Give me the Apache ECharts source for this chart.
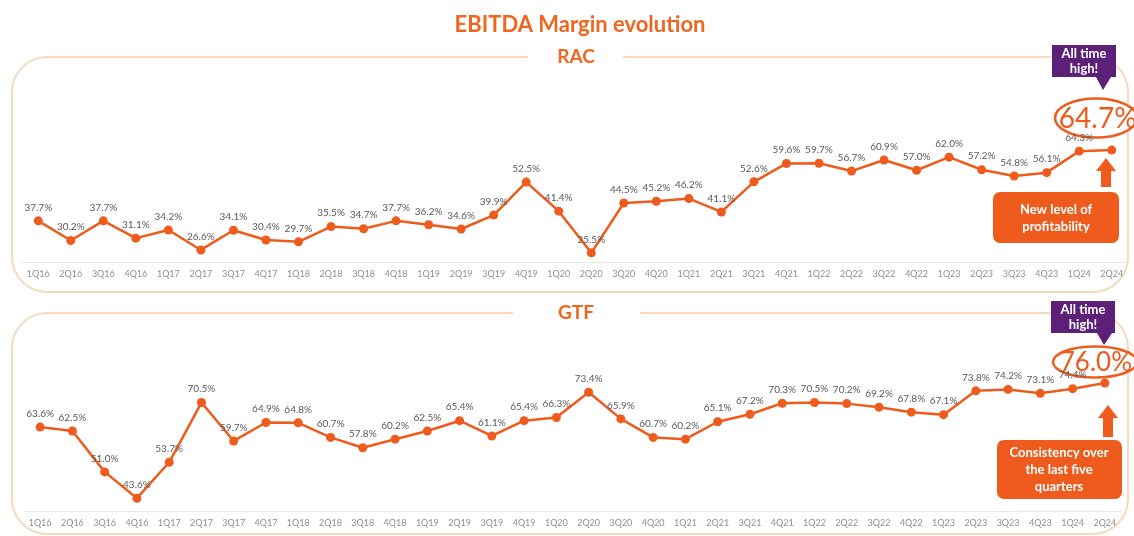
<!DOCTYPE html>
<html>
<head>
<meta charset="utf-8">
<script src="https://cdn.jsdelivr.net/npm/echarts@6/dist/echarts.min.js"></script>
<style>
  html, body { margin: 0; padding: 0; background: #fff; }
  #main { width: 1134px; height: 536px; }
</style>
</head>
<body>
<div id="main"></div>
<script>
// quarters on both x axes
var quarters = ['1Q16','2Q16','3Q16','4Q16','1Q17','2Q17','3Q17','4Q17','1Q18','2Q18','3Q18','4Q18',
  '1Q19','2Q19','3Q19','4Q19','1Q20','2Q20','3Q20','4Q20','1Q21','2Q21','3Q21','4Q21',
  '1Q22','2Q22','3Q22','4Q22','1Q23','2Q23','3Q23','4Q23','1Q24','2Q24'];

// EBITDA margin %, RAC
var racMargin = [37.7, 30.2, 37.7, 31.1, 34.2, 26.6, 34.1, 30.4, 29.7, 35.5, 34.7, 37.7,
  36.2, 34.6, 39.9, 52.5, 41.4, 25.5, 44.5, 45.2, 46.2, 41.1, 52.6, 59.6,
  59.7, 56.7, 60.9, 57.0, 62.0, 57.2, 54.8, 56.1, 64.3, 64.7];

// EBITDA margin %, GTF
var gtfMargin = [63.6, 62.5, 51.0, 43.6, 53.7, 70.5, 59.7, 64.9, 64.8, 60.7, 57.8, 60.2,
  62.5, 65.4, 61.1, 65.4, 66.3, 73.4, 65.9, 60.7, 60.2, 65.1, 67.2, 70.3,
  70.5, 70.2, 69.2, 67.8, 67.1, 73.8, 74.2, 73.1, 74.4, 76.0];

var orange = '#ef5b1c';
var titleOrange = '#f0661f';
var purple = '#5c2078';
var border = '#f5dabd';

// last point gets the big highlighted label
function withBigLast(vals, offset, size){
  return vals.map(function(v, i){
    if (i !== vals.length - 1) return v;
    return {
      value: v,
      label: {
        position: 'inside',
        offset: offset,
        fontSize: size,
        color: orange,
        fontFamily: 'Lato'
      }
    };
  });
}

function lineSeries(idx, data){
  return {
    type: 'line',
    xAxisIndex: idx,
    yAxisIndex: idx,
    data: data,
    symbol: 'circle',
    symbolSize: 9,
    lineStyle: { color: orange, width: 2.5 },
    itemStyle: { color: orange },
    label: {
      show: true,
      position: 'top',
      distance: 4,
      color: '#5a5a5a',
      fontSize: 10,
      fontFamily: 'Lato',
      formatter: function(p){ return p.value.toFixed(1) + '%'; }
    },
    animation: false
  };
}

function xAxisOf(idx){
  return {
    type: 'category',
    gridIndex: idx,
    data: quarters,
    axisTick: { show: false },
    axisLine: { lineStyle: { color: '#e8e8e8', width: 1 } },
    axisLabel: { color: '#909090', fontSize: 9, fontFamily: 'Lato', margin: 8, interval: 0 }
  };
}

function callout(x, y, tipX, tipY){
  return [
    { type: 'rect', shape: { x: x, y: y, width: 64, height: 32 }, style: { fill: purple } },
    { type: 'polygon', shape: { points: [[tipX - 7, y + 32], [tipX + 8, y + 32], [tipX, tipY]] }, style: { fill: purple } },
    { type: 'text', x: x + 32, y: y + 16, style: {
      text: 'All time\nhigh!', fill: '#fff', font: 'bold 13px Lato', lineHeight: 15,
      align: 'center', verticalAlign: 'middle' } }
  ];
}

function upArrow(cx, tip, bottom){
  return { type: 'polygon', shape: { points: [
    [cx, tip], [cx + 10, tip + 13], [cx + 5, tip + 13], [cx + 5, bottom],
    [cx - 5, bottom], [cx - 5, tip + 13], [cx - 10, tip + 13]] }, style: { fill: orange } };
}

var graphics = [
  { type: 'text', x: 580, y: 25, style: { text: 'EBITDA Margin evolution', fill: titleOrange,
    font: 'bold 22px Lato', align: 'center', verticalAlign: 'middle' } },

  // RAC panel
  { type: 'rect', shape: { x: 12, y: 57, width: 1116, height: 235, r: 35 },
    style: { fill: 'none', stroke: border, lineWidth: 2 } },
  { type: 'rect', shape: { x: 528, y: 50, width: 95, height: 14 }, style: { fill: '#fff' } },
  { type: 'text', x: 576, y: 57, style: { text: 'RAC', fill: titleOrange, font: 'bold 19px Lato',
    align: 'center', verticalAlign: 'middle' } },

  // GTF panel
  { type: 'rect', shape: { x: 12, y: 313, width: 1116, height: 221, r: 35 },
    style: { fill: 'none', stroke: border, lineWidth: 2 } },
  { type: 'rect', shape: { x: 513, y: 306, width: 127, height: 14 }, style: { fill: '#fff' } },
  { type: 'text', x: 576, y: 313, style: { text: 'GTF', fill: titleOrange, font: 'bold 19px Lato',
    align: 'center', verticalAlign: 'middle' } },

  // RAC highlight
  { type: 'ellipse', shape: { cx: 1096, cy: 118, rx: 41, ry: 19.5 },
    style: { fill: '#fff', stroke: orange, lineWidth: 2.5 } },
  upArrow(1106, 158, 187),
  { type: 'rect', shape: { x: 993, y: 192, width: 126, height: 51, r: 7 }, style: { fill: orange } },
  { type: 'text', x: 1056, y: 218, style: { text: 'New level of\nprofitability', fill: '#fff',
    font: 'bold 13px Lato', lineHeight: 17, align: 'center', verticalAlign: 'middle' } },

  // GTF highlight
  { type: 'ellipse', shape: { cx: 1095, cy: 362, rx: 42, ry: 15.5 },
    style: { fill: '#fff', stroke: orange, lineWidth: 2.5 } },
  upArrow(1108, 405, 437),
  { type: 'rect', shape: { x: 997, y: 440, width: 125, height: 59, r: 7 }, style: { fill: orange } },
  { type: 'text', x: 1059, y: 470, style: { text: 'Consistency over\nthe last five\nquarters', fill: '#fff',
    font: 'bold 13px Lato', lineHeight: 17, align: 'center', verticalAlign: 'middle' } }
].concat(callout(1052, 45, 1103, 90), callout(1051, 301, 1104, 345));

var option = {
  backgroundColor: '#fff',
  animation: false,
  grid: [
    { left: 22, right: 6, top: 110, bottom: 274 },
    { left: 24, right: 13, top: 351, bottom: 25 }
  ],
  xAxis: [xAxisOf(0), xAxisOf(1)],
  yAxis: [
    { type: 'value', gridIndex: 0, min: 22, max: 80, show: false },
    { type: 'value', gridIndex: 1, min: 40, max: 85, show: false }
  ],
  graphic: graphics,
  series: [
    lineSeries(0, withBigLast(racMargin, [-14, -31], 28)),
    lineSeries(1, withBigLast(gtfMargin, [-9, -20], 26))
  ]
};

var myChart = echarts.init(document.getElementById('main'));
option && myChart.setOption(option);
window.addEventListener('resize', function(){ myChart.resize(); });
</script>
</body>
</html>
